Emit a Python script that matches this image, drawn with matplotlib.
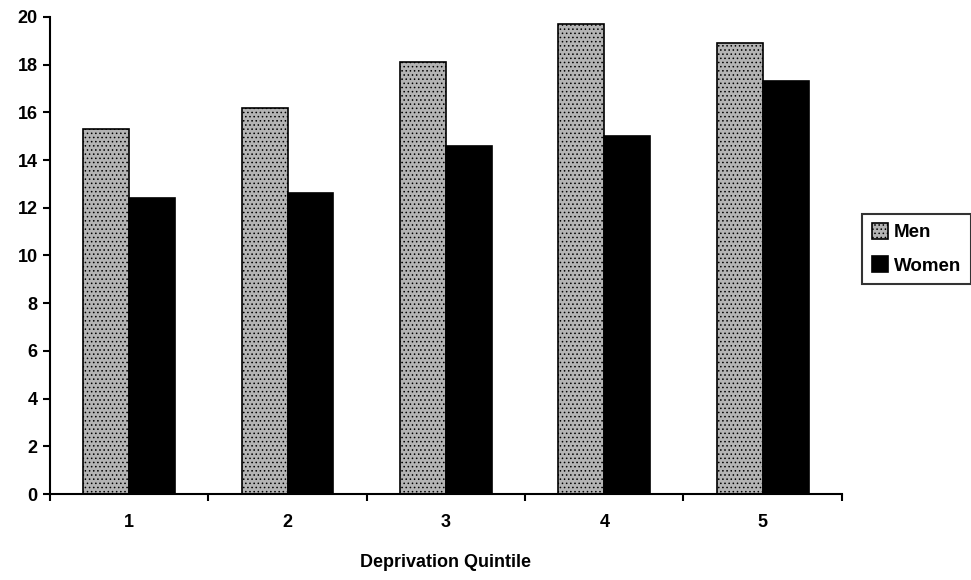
import numpy as np
import matplotlib
matplotlib.use("Agg")
import matplotlib.pyplot as plt

plt.rcParams['font.family'] = ['Liberation Sans', 'DejaVu Sans']
plt.rcParams['font.weight'] = 'bold'
plt.rcParams['hatch.linewidth'] = 0.6

quintiles = ['1', '2', '3', '4', '5']
men = [15.3, 16.2, 18.1, 19.7, 18.9]
women = [12.4, 12.6, 14.6, 15.0, 17.3]

fig = plt.figure(figsize=(9.71, 5.8), dpi=100)
ax = fig.add_axes([0.0515, 0.148, 0.8155, 0.823])

x = np.arange(len(quintiles))
w = 0.29
ax.bar(x - w/2, men, width=w, facecolor='#b4b4b4', edgecolor='black', linewidth=1.2,
       hatch='....', label='Men')
ax.bar(x + w/2, women, width=w, facecolor='black', edgecolor='black', linewidth=1.2,
       label='Women')

ax.set_xlim(-0.5, 4.5)
ax.set_ylim(0, 20)
ax.set_yticks(range(0, 21, 2))
ax.set_xticks(x)
ax.set_xticklabels(quintiles)
ax.set_xticks(np.arange(-0.5, 5, 1), minor=True)
ax.tick_params(axis='x', which='major', length=0, pad=14, labelsize=13)
ax.tick_params(axis='x', which='minor', length=5, width=1.5, direction='out')
ax.tick_params(axis='y', length=5, width=1.5, direction='out', labelsize=13, pad=4)
for lab in ax.get_xticklabels() + ax.get_yticklabels():
    lab.set_fontweight('bold')

ax.spines['top'].set_visible(False)
ax.spines['right'].set_visible(False)
ax.spines['left'].set_linewidth(1.5)
ax.spines['bottom'].set_linewidth(1.5)

ax.set_xlabel('Deprivation Quintile', fontsize=13, fontweight='bold', labelpad=17)

leg = ax.legend(loc='center left', bbox_to_anchor=(0.888, 0.571), bbox_transform=fig.transFigure,
                frameon=True, fancybox=False, fontsize=13.5, handlelength=0.9, handleheight=0.9,
                handletextpad=0.3, borderpad=0.5, labelspacing=0.8, borderaxespad=0)
leg.get_frame().set_edgecolor('black')
leg.get_frame().set_linewidth(1.5)
for t in leg.get_texts():
    t.set_fontweight('bold')

fig.savefig('out.png', dpi=100)
